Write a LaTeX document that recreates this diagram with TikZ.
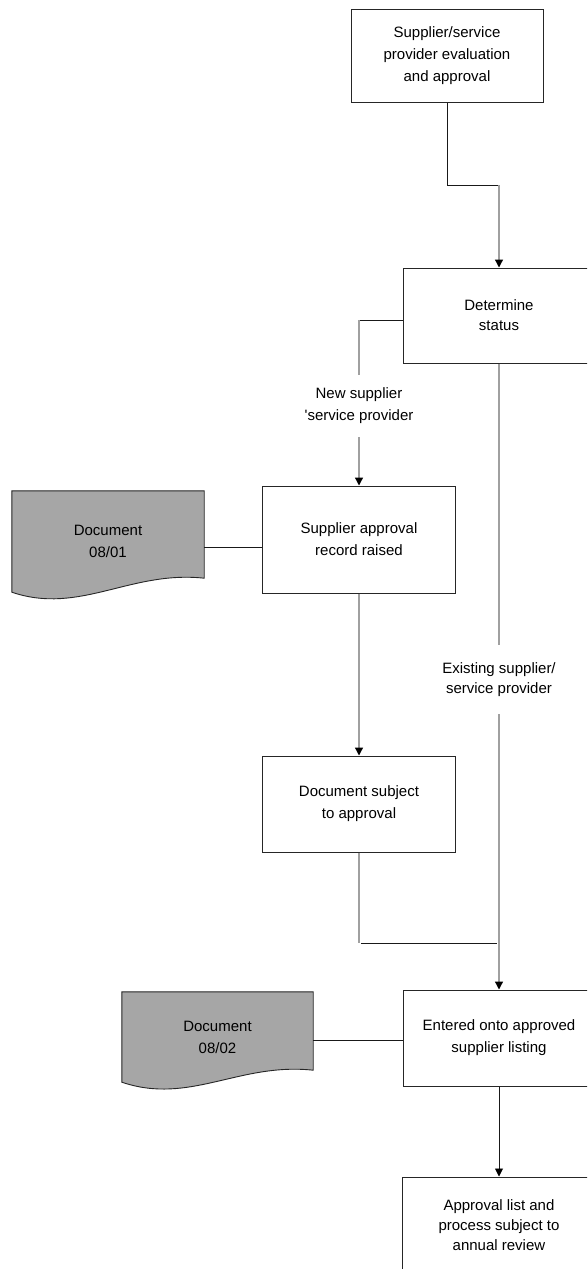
\documentclass[tikz,border=0pt]{standalone}
\usepackage{fontspec}
\setmainfont{Liberation Sans}
\usetikzlibrary{arrows.meta}

\definecolor{boxline}{HTML}{262626}
\definecolor{flowgray}{HTML}{A0A0A0}
\definecolor{docgray}{HTML}{A6A6A6}

% outline of a document symbol: flat top, wavy bottom
% #1 node name, #2 rise of the lower right corner above the south edge
\newcommand\docoutline[2]{%
  \path[docshape] (#1.north west) -- (#1.north east)
    -- ([yshift=#2]#1.south east)
    .. controls +(-74pt,8pt) and +(68pt,-23pt) .. (#1.south west) -- cycle;}

\begin{document}
\begin{tikzpicture}[x=1pt,y=-1pt,
  txt/.style={align=center,font=\fontsize{15}{22}\selectfont,inner sep=0pt},
  tight/.style={font=\fontsize{15}{20}\selectfont},
  box/.style={txt,draw=boxline,line width=1pt,fill=white,minimum width=192pt},
  docbox/.style={txt,minimum width=192pt},
  docshape/.style={fill=docgray,draw=boxline,line width=0.9pt},
  lbl/.style={txt,fill=white},
  blk/.style={draw=black!90,line width=0.9pt},
  gry/.style={draw=flowgray,line width=1.3pt},
  tip/.style={-{Triangle[length=8pt,width=8pt,color=black]}}
]
\clip (0,0) rectangle (587,1269);
\fill[white] (0,0) rectangle (587,1269);

% process steps
\node[box,minimum height=93pt] (b1) at (447,55.5)
  {Supplier/service\\provider evaluation\\and approval};
\node[box,tight,minimum height=95pt] (b2) at (499,315.5) {Determine\\status};
\node[box,minimum width=193pt,minimum height=107pt] (b3) at (359,539.5)
  {Supplier approval\\record raised};
\node[box,minimum width=193pt,minimum height=96pt] (b4) at (359,804)
  {Document subject\\to approval};
\node[box,minimum height=96pt] (b5) at (499,1038)
  {Entered onto approved\\supplier listing};
\node[box,tight,minimum width=193pt,minimum height=96pt] (b6) at (499,1225)
  {Approval list and\\process subject to\\annual review};

% documents
\node[docbox,minimum height=101pt] (doc1) at (108,541.5) {};
\docoutline{doc1}{14pt}
\node[txt] at (doc1.center) {Document\\08/01};
\node[docbox,minimum width=191pt,minimum height=90pt] (doc2) at (217.5,1037) {};
\docoutline{doc2}{12pt}
\node[txt] at (doc2.center) {Document\\08/02};

% branch labels
\node[lbl,minimum height=62pt] (newlbl) at (359,406)
  {New supplier\\\textquotesingle service provider};
\node[lbl,tight,minimum height=69pt] (exlbl) at (499,679.5)
  {Existing supplier/\\service provider};

% junction points
\coordinate (j1) at (499,185);
\coordinate (j2) at (359,320);
\coordinate (j3) at (359,943);
\coordinate (j4) at (497,943);
\coordinate (d1) at ([yshift=-5.5pt]doc1.east);
\coordinate (d2) at ([yshift=-3pt]doc2.east);

% connectors
\draw[blk] (b1.south) |- (j1);
\draw[gry,tip] (j1) -- (b2.north);

\draw[blk] (b2.west |- j2) -- (j2);
\draw[gry] (j2) -- (newlbl.north);
\draw[gry,tip] (newlbl.south) -- (b3.north);

\draw[gry] (b2.south) -- (exlbl.north);
\draw[gry,tip] (exlbl.south) -- (b5.north);

\draw[gry,tip] (b3.south) -- (b4.north);

\draw[gry] (b4.south) -- (j3);
\draw[blk] ([xshift=2pt]j3) -- (j4);

\draw[blk,tip] (b5.south) -- (b6.north);

\draw[blk] (d1) -- (d1 -| b3.west);
\draw[blk] (d2) -- (d2 -| b5.west);
\end{tikzpicture}
\end{document}
